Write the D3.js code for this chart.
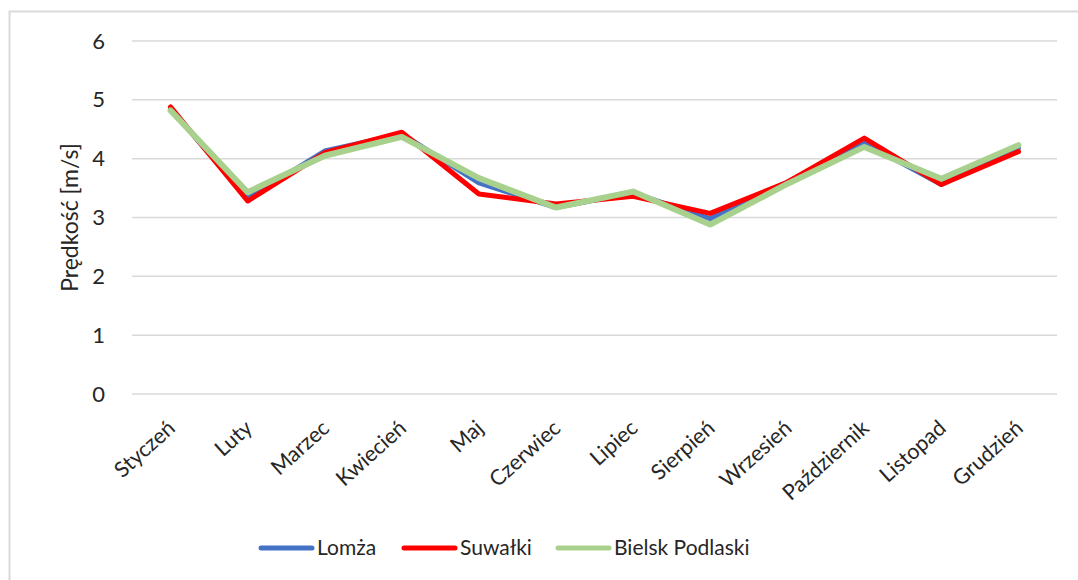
<!DOCTYPE html>
<html lang="pl">
<head>
  <meta charset="utf-8">
  <title>Prędkość wiatru</title>
  <script src="https://d3js.org/d3.v7.min.js"></script>
  <style>
    body { margin: 0; background: #fff; }
    text { font-family: Lato, "Open Sans", sans-serif; fill: #262626; }
  </style>
</head>
<body>
  <div id="chart"></div>
  <script>
    "use strict"

    var miesiace = ["Styczeń", "Luty", "Marzec", "Kwiecień", "Maj", "Czerwiec",
                    "Lipiec", "Sierpień", "Wrzesień", "Październik", "Listopad", "Grudzień"];
    var lomza   = [4.85, 3.32, 4.13, 4.42, 3.59, 3.17, 3.42, 2.98, 3.60, 4.27, 3.56, 4.18];
    var suwalki = [4.88, 3.28, 4.10, 4.45, 3.40, 3.23, 3.36, 3.07, 3.60, 4.35, 3.56, 4.12];
    var bielsk  = [4.82, 3.43, 4.05, 4.37, 3.67, 3.17, 3.44, 2.88, 3.57, 4.20, 3.66, 4.23];
    var yTicks  = [0, 1, 2, 3, 4, 5, 6];

    var serie = [
      {nazwa: "Lomża", wartosci: lomza, kolor: "#4472C4"},
      {nazwa: "Suwałki", wartosci: suwalki, kolor: "#FF0000"},
      {nazwa: "Bielsk Podlaski", wartosci: bielsk, kolor: "#A9D18E"}
    ];

    var W = 1078, H = 580;
    var margin = {top: 41, left: 132, right: 21, bottom: 186};
    var szer = W - margin.left - margin.right,
        wys = H - margin.top - margin.bottom;

    var svg = d3.select("#chart").append("svg")
      .attr("width", W).attr("height", H);

    // ramka
    svg.append("rect")
      .attr("x", 9.5).attr("y", 11.5)
      .attr("width", W).attr("height", H)
      .attr("fill", "none").attr("stroke", "#d9d9d9").attr("stroke-width", 2);

    var g = svg.append("g")
      .attr("transform", "translate(" + margin.left + "," + margin.top + ")");

    var x = d3.scaleBand().domain(miesiace).range([0, szer]);
    var y = d3.scaleLinear().domain([0, 6]).range([wys, 0]);

    // siatka
    g.selectAll(".grid").data(yTicks).enter().append("line")
      .attr("x1", 0).attr("x2", szer)
      .attr("y1", d => y(d)).attr("y2", d => y(d))
      .attr("stroke", "#d9d9d9").attr("stroke-width", 1.5);

    var osY = g.append("g").call(d3.axisLeft(y).tickValues(yTicks)
      .tickFormat(d3.format("d")).tickSize(0).tickPadding(27));
    osY.select(".domain").remove();
    osY.selectAll("text").style("font-size", "22px").attr("fill", "#404040");

    var osX = g.append("g")
      .attr("transform", "translate(0," + wys + ")")
      .call(d3.axisBottom(x).tickSize(0).tickPadding(0));
    osX.select(".domain").remove();
    osX.selectAll("text")
      .style("font-size", "21.5px")
      .attr("fill", "#262626")
      .attr("text-anchor", "end")
      .attr("y", 0).attr("dy", 0)
      .attr("transform", "translate(6,36) rotate(-42)");

    svg.append("text")
      .attr("transform", "translate(78," + (margin.top + wys / 2) + ") rotate(-90)")
      .attr("text-anchor", "middle")
      .style("font-size", "23px")
      .text("Prędkość [m/s]");

    var linia = d3.line()
      .x((d, i) => x(miesiace[i]) + x.bandwidth() / 2)
      .y(d => y(d));

    g.selectAll(".seria").data(serie).enter().append("path")
      .attr("d", d => linia(d.wartosci))
      .attr("fill", "none")
      .attr("stroke", d => d.kolor)
      .attr("stroke-width", (d, i) => i === 2 ? 6 : 5)
      .attr("stroke-linejoin", "round")
      .attr("stroke-linecap", "round");

    // legenda
    var legX = [261, 404, 558];
    var leg = svg.selectAll(".leg").data(serie).enter().append("g")
      .attr("transform", (d, i) => "translate(" + legX[i] + ",548)");
    leg.append("line")
      .attr("x1", 0).attr("x2", 51)
      .attr("stroke", d => d.kolor).attr("stroke-width", 5)
      .attr("stroke-linecap", "round");
    leg.append("text")
      .attr("x", 56).attr("dy", "0.35em")
      .style("font-size", "21px")
      .text(d => d.nazwa);
  </script>
</body>
</html>
